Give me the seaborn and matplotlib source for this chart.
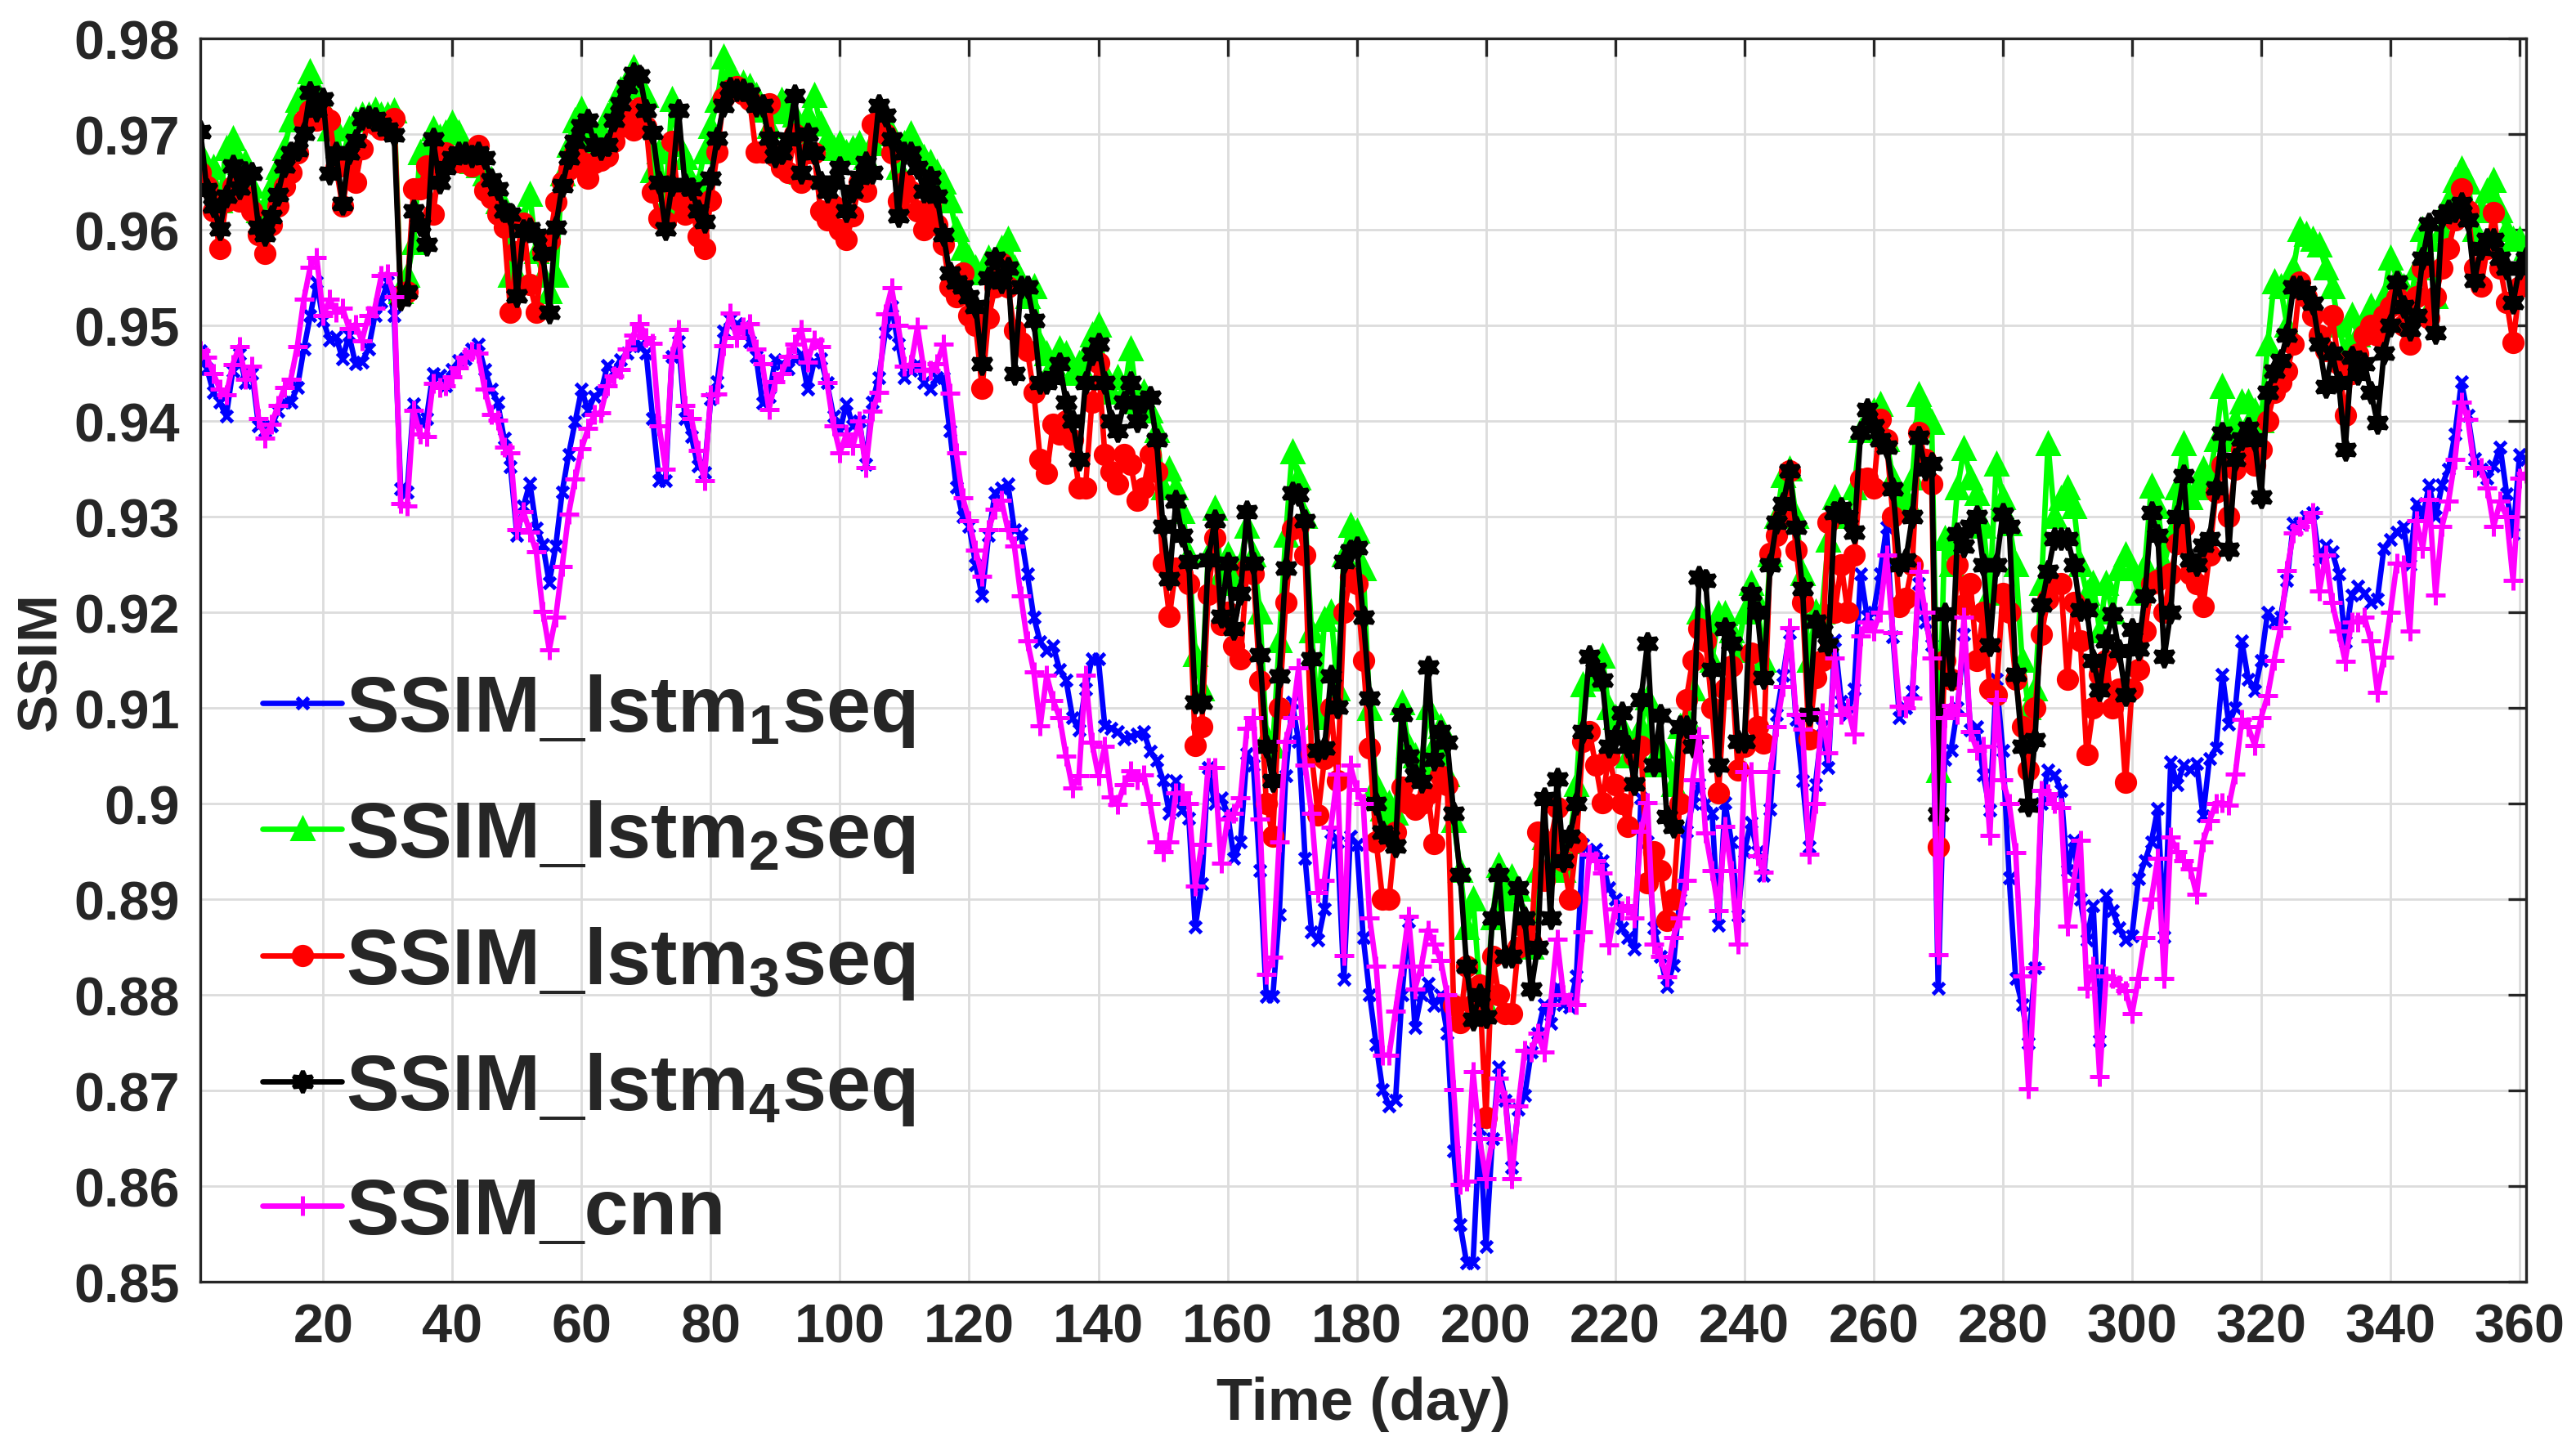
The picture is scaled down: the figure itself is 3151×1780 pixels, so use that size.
import matplotlib
matplotlib.use("Agg")
import matplotlib.pyplot as plt
import matplotlib.ticker as mticker
import seaborn as sns
import pandas as pd

days = list(range(1, 362))

ssim_lstm1 = [
    0.9474, 0.9455, 0.9430, 0.9420, 0.9405, 0.9452, 0.9470, 0.9440, 0.9450, 0.9395,
    0.9390, 0.9395, 0.9410, 0.9420, 0.9420, 0.9435, 0.9475, 0.9510, 0.9545, 0.9505,
    0.9485, 0.9488, 0.9465, 0.9490, 0.9460, 0.9462, 0.9475, 0.9510, 0.9525, 0.9545,
    0.9510, 0.9329, 0.9326, 0.9418, 0.9399, 0.9403, 0.9450, 0.9448, 0.9437, 0.9454,
    0.9463, 0.9465, 0.9475, 0.9480, 0.9454, 0.9433, 0.9420, 0.9382, 0.9352, 0.9280,
    0.9311, 0.9335, 0.9288, 0.9271, 0.9231, 0.9269, 0.9326, 0.9365, 0.9399, 0.9433,
    0.9411, 0.9426, 0.9430, 0.9458, 0.9452, 0.9464, 0.9471, 0.9479, 0.9479, 0.9471,
    0.9403, 0.9338, 0.9338, 0.9468, 0.9483, 0.9403, 0.9384, 0.9353, 0.9346, 0.9423,
    0.9441, 0.9494, 0.9506, 0.9502, 0.9498, 0.9483, 0.9468, 0.9419, 0.9426, 0.9464,
    0.9460, 0.9455, 0.9465, 0.9470, 0.9433, 0.9462, 0.9465, 0.9440, 0.9405, 0.9390,
    0.9418, 0.9395, 0.9400, 0.9355, 0.9420, 0.9445, 0.9492, 0.9520, 0.9480, 0.9445,
    0.9453, 0.9460, 0.9440, 0.9433, 0.9445, 0.9445, 0.9390, 0.9331, 0.9300, 0.9290,
    0.9250, 0.9217, 0.9280, 0.9325, 0.9330, 0.9334, 0.9286, 0.9282, 0.9240, 0.9195,
    0.9169, 0.9160, 0.9165, 0.9140, 0.9129, 0.9090, 0.9077, 0.9120, 0.9151, 0.9151,
    0.9081, 0.9079, 0.9075, 0.9068, 0.9070, 0.9073, 0.9075, 0.9055, 0.9045, 0.9025,
    0.8990, 0.9024, 0.8993, 0.8985, 0.8871, 0.8916, 0.9038, 0.9000, 0.9006, 0.8990,
    0.8943, 0.8960, 0.9052, 0.9040, 0.8930, 0.8798, 0.8798, 0.8884, 0.9029, 0.9106,
    0.9065, 0.8943, 0.8866, 0.8857, 0.8890, 0.8970, 0.8960, 0.8816, 0.8966, 0.8957,
    0.8860, 0.8800, 0.8748, 0.8701, 0.8684, 0.8690, 0.8800, 0.8877, 0.8766, 0.8800,
    0.8812, 0.8789, 0.8800, 0.8760, 0.8637, 0.8560, 0.8520, 0.8520, 0.8660, 0.8537,
    0.8650, 0.8725, 0.8690, 0.8620, 0.8680, 0.8695, 0.8740, 0.8760, 0.8790, 0.8770,
    0.8809, 0.8790, 0.8787, 0.8820, 0.8957, 0.8950, 0.8952, 0.8940, 0.8912, 0.8900,
    0.8870, 0.8860, 0.8848, 0.9006, 0.8960, 0.8870, 0.8840, 0.8809, 0.8831, 0.8900,
    0.8971, 0.9000, 0.9021, 0.9000, 0.8990, 0.8873, 0.9001, 0.8960, 0.8883, 0.8950,
    0.8980, 0.8950, 0.8925, 0.8994, 0.9093, 0.9134, 0.9179, 0.9088, 0.9024, 0.8955,
    0.9020, 0.9080, 0.9038, 0.9171, 0.9107, 0.9093, 0.9120, 0.9240, 0.9196, 0.9200,
    0.9240, 0.9289, 0.9174, 0.9090, 0.9100, 0.9117, 0.9230, 0.9190, 0.9166, 0.8807,
    0.9046, 0.9056, 0.9100, 0.9177, 0.9077, 0.9080, 0.9030, 0.8993, 0.9130, 0.9056,
    0.8922, 0.8817, 0.8790, 0.8750, 0.8828, 0.9000, 0.9035, 0.9030, 0.9014, 0.8930,
    0.8962, 0.8900, 0.8857, 0.8893, 0.8752, 0.8904, 0.8888, 0.8870, 0.8857, 0.8862,
    0.8921, 0.8940, 0.8960, 0.8995, 0.8861, 0.9044, 0.9020, 0.9040, 0.9035, 0.9042,
    0.8987, 0.9047, 0.9058, 0.9135, 0.9083, 0.9100, 0.9170, 0.9130, 0.9118, 0.9150,
    0.9200, 0.9190, 0.9195, 0.9233, 0.9293, 0.9293, 0.9300, 0.9304, 0.9255, 0.9270,
    0.9263, 0.9240, 0.9169, 0.9218, 0.9227, 0.9220, 0.9210, 0.9214, 0.9267, 0.9276,
    0.9284, 0.9290, 0.9250, 0.9314, 0.9300, 0.9333, 0.9300, 0.9333, 0.9350, 0.9386,
    0.9441, 0.9406, 0.9361, 0.9350, 0.9340, 0.9353, 0.9373, 0.9324, 0.9282, 0.9365,
    0.9360,
]

ssim_lstm2 = [
    0.9680, 0.9655, 0.9665, 0.9630, 0.9685, 0.9695, 0.9670, 0.9670, 0.9645, 0.9620,
    0.9625, 0.9645, 0.9665, 0.9685, 0.9715, 0.9735, 0.9745, 0.9765, 0.9745, 0.9730,
    0.9705, 0.9705, 0.9670, 0.9705, 0.9715, 0.9720, 0.9720, 0.9725, 0.9720, 0.9720,
    0.9724, 0.9535, 0.9552, 0.9586, 0.9680, 0.9680, 0.9705, 0.9697, 0.9701, 0.9711,
    0.9701, 0.9684, 0.9671, 0.9667, 0.9658, 0.9652, 0.9629, 0.9624, 0.9552, 0.9552,
    0.9611, 0.9637, 0.9577, 0.9552, 0.9535, 0.9552, 0.9658, 0.9688, 0.9714, 0.9726,
    0.9692, 0.9696, 0.9704, 0.9719, 0.9730, 0.9746, 0.9755, 0.9769, 0.9750, 0.9740,
    0.9662, 0.9681, 0.9628, 0.9736, 0.9689, 0.9675, 0.9650, 0.9647, 0.9681, 0.9708,
    0.9735, 0.9780, 0.9765, 0.9753, 0.9753, 0.9750, 0.9740, 0.9725, 0.9708, 0.9723,
    0.9735, 0.9725, 0.9720, 0.9660, 0.9720, 0.9740, 0.9710, 0.9695, 0.9685, 0.9690,
    0.9680, 0.9685, 0.9690, 0.9675, 0.9690, 0.9700, 0.9710, 0.9700, 0.9665, 0.9690,
    0.9700, 0.9685, 0.9675, 0.9670, 0.9660, 0.9650, 0.9630, 0.9600, 0.9580, 0.9570,
    0.9560, 0.9555, 0.9570, 0.9560, 0.9580, 0.9590, 0.9560, 0.9545, 0.9530, 0.9540,
    0.9480, 0.9470, 0.9460, 0.9475, 0.9470, 0.9450, 0.9460, 0.9470, 0.9490, 0.9500,
    0.9450, 0.9430, 0.9445, 0.9430, 0.9475, 0.9420, 0.9430, 0.9410, 0.9390, 0.9330,
    0.9350, 0.9330, 0.9305, 0.9260, 0.9156, 0.9120, 0.9260, 0.9309, 0.9240, 0.9260,
    0.9230, 0.9250, 0.9290, 0.9260, 0.9200, 0.9070, 0.9060, 0.9170, 0.9280, 0.9368,
    0.9340, 0.9300, 0.9180, 0.9090, 0.9192, 0.9200, 0.9120, 0.9260, 0.9291, 0.9285,
    0.9245, 0.9099, 0.9020, 0.8994, 0.9000, 0.8990, 0.9105, 0.9060, 0.9050, 0.9040,
    0.9100, 0.9060, 0.9080, 0.9030, 0.8982, 0.8930, 0.8870, 0.8900, 0.8810, 0.8790,
    0.8880, 0.8935, 0.8900, 0.8923, 0.8910, 0.8880, 0.8850, 0.8930, 0.8964, 0.8940,
    0.8960, 0.8930, 0.8960, 0.9020, 0.9124, 0.9130, 0.9140, 0.9154, 0.9100, 0.9090,
    0.9080, 0.9050, 0.9060, 0.9080, 0.9110, 0.9040, 0.9060, 0.9040, 0.9020, 0.9080,
    0.9090, 0.9120, 0.9200, 0.9190, 0.9150, 0.9198, 0.9198, 0.9180, 0.9160, 0.9200,
    0.9230, 0.9210, 0.9150, 0.9260, 0.9300, 0.9343, 0.9350, 0.9300, 0.9240, 0.9150,
    0.9200, 0.9200, 0.9275, 0.9320, 0.9300, 0.9300, 0.9330, 0.9390, 0.9400, 0.9410,
    0.9417, 0.9380, 0.9340, 0.9310, 0.9320, 0.9340, 0.9427, 0.9410, 0.9398, 0.9034,
    0.9277, 0.9250, 0.9330, 0.9371, 0.9340, 0.9324, 0.9290, 0.9220, 0.9355, 0.9320,
    0.9292, 0.9250, 0.9150, 0.9100, 0.9120, 0.9230, 0.9376, 0.9300, 0.9319, 0.9330,
    0.9310, 0.9250, 0.9220, 0.9230, 0.9180, 0.9230, 0.9200, 0.9245, 0.9260, 0.9245,
    0.9220, 0.9250, 0.9332, 0.9310, 0.9250, 0.9280, 0.9330, 0.9376, 0.9320, 0.9330,
    0.9350, 0.9340, 0.9380, 0.9436, 0.9380, 0.9400, 0.9420, 0.9420, 0.9410, 0.9400,
    0.9480, 0.9545, 0.9540, 0.9500, 0.9560, 0.9600, 0.9595, 0.9590, 0.9584, 0.9560,
    0.9540, 0.9500, 0.9470, 0.9510, 0.9490, 0.9500, 0.9520, 0.9500, 0.9530, 0.9570,
    0.9550, 0.9540, 0.9520, 0.9560, 0.9600, 0.9590, 0.9530, 0.9600, 0.9630, 0.9651,
    0.9663, 0.9650, 0.9600, 0.9620, 0.9640, 0.9651, 0.9620, 0.9600, 0.9590, 0.9590,
    0.9580,
]

ssim_lstm3 = [
    0.9660, 0.9645, 0.9620, 0.9580, 0.9630, 0.9645, 0.9630, 0.9635, 0.9620, 0.9595,
    0.9575, 0.9605, 0.9625, 0.9645, 0.9660, 0.9680, 0.9715, 0.9725, 0.9715, 0.9720,
    0.9715, 0.9665, 0.9625, 0.9665, 0.9650, 0.9685, 0.9715, 0.9710, 0.9705, 0.9705,
    0.9716, 0.9531, 0.9535, 0.9643, 0.9643, 0.9667, 0.9616, 0.9667, 0.9680, 0.9673,
    0.9671, 0.9675, 0.9667, 0.9688, 0.9641, 0.9633, 0.9616, 0.9603, 0.9514, 0.9577,
    0.9607, 0.9543, 0.9514, 0.9577, 0.9588, 0.9629, 0.9650, 0.9663, 0.9680, 0.9671,
    0.9654, 0.9670, 0.9673, 0.9677, 0.9692, 0.9708, 0.9715, 0.9704, 0.9727, 0.9708,
    0.9639, 0.9612, 0.9609, 0.9692, 0.9631, 0.9616, 0.9628, 0.9593, 0.9580, 0.9631,
    0.9681, 0.9738, 0.9746, 0.9750, 0.9742, 0.9736, 0.9681, 0.9681, 0.9732, 0.9677,
    0.9665, 0.9660, 0.9700, 0.9650, 0.9680, 0.9680, 0.9620, 0.9610, 0.9625, 0.9600,
    0.9590, 0.9615, 0.9650, 0.9640, 0.9710, 0.9715, 0.9700, 0.9680, 0.9630, 0.9650,
    0.9640, 0.9620, 0.9600, 0.9625, 0.9605, 0.9585, 0.9540, 0.9530, 0.9555, 0.9510,
    0.9500, 0.9434, 0.9508, 0.9540, 0.9565, 0.9540, 0.9495, 0.9482, 0.9474, 0.9430,
    0.9360, 0.9345, 0.9397, 0.9386, 0.9400, 0.9380, 0.9330, 0.9330, 0.9420, 0.9461,
    0.9365, 0.9347, 0.9334, 0.9365, 0.9355, 0.9317, 0.9330, 0.9365, 0.9347, 0.9251,
    0.9196, 0.9246, 0.9240, 0.9230, 0.9061, 0.9080, 0.9219, 0.9278, 0.9187, 0.9200,
    0.9165, 0.9151, 0.9245, 0.9240, 0.9128, 0.9000, 0.8966, 0.9100, 0.9210, 0.9287,
    0.9290, 0.9260, 0.9052, 0.8988, 0.9047, 0.9100, 0.9024, 0.9200, 0.9237, 0.9230,
    0.9150, 0.9058, 0.8960, 0.8900, 0.8900, 0.8970, 0.9017, 0.9000, 0.8994, 0.9000,
    0.9010, 0.8958, 0.9029, 0.9020, 0.8789, 0.8771, 0.8830, 0.8790, 0.8810, 0.8672,
    0.8840, 0.8800, 0.8780, 0.8780, 0.8850, 0.8870, 0.8855, 0.8970, 0.8920, 0.8960,
    0.8996, 0.8940, 0.8900, 0.8960, 0.9065, 0.9075, 0.9040, 0.9001, 0.9050, 0.9020,
    0.9000, 0.8976, 0.9050, 0.9060, 0.8917, 0.8950, 0.8930, 0.8878, 0.8900, 0.9000,
    0.9109, 0.9150, 0.9183, 0.9170, 0.9100, 0.9011, 0.9120, 0.9144, 0.9035, 0.9060,
    0.9157, 0.9080, 0.9063, 0.9262, 0.9280, 0.9300, 0.9348, 0.9265, 0.9210, 0.9068,
    0.9132, 0.9150, 0.9294, 0.9200, 0.9250, 0.9200, 0.9260, 0.9339, 0.9340, 0.9330,
    0.9402, 0.9380, 0.9300, 0.9206, 0.9215, 0.9250, 0.9388, 0.9360, 0.9334, 0.8955,
    0.9150, 0.9130, 0.9250, 0.9208, 0.9230, 0.9150, 0.9200, 0.9120, 0.9114, 0.9220,
    0.9200, 0.9130, 0.9080, 0.9035, 0.9100, 0.9177, 0.9214, 0.9230, 0.9230, 0.9130,
    0.9210, 0.9170, 0.9051, 0.9100, 0.9135, 0.9150, 0.9100, 0.9120, 0.9022, 0.9120,
    0.9140, 0.9180, 0.9230, 0.9233, 0.9200, 0.9240, 0.9272, 0.9290, 0.9240, 0.9230,
    0.9206, 0.9260, 0.9326, 0.9354, 0.9300, 0.9350, 0.9370, 0.9376, 0.9354, 0.9370,
    0.9400, 0.9430, 0.9440, 0.9452, 0.9480, 0.9545, 0.9530, 0.9510, 0.9490, 0.9474,
    0.9510, 0.9460, 0.9406, 0.9450, 0.9470, 0.9490, 0.9500, 0.9490, 0.9510, 0.9520,
    0.9529, 0.9500, 0.9480, 0.9530, 0.9560, 0.9508, 0.9530, 0.9560, 0.9580, 0.9610,
    0.9643, 0.9620, 0.9560, 0.9541, 0.9580, 0.9618, 0.9560, 0.9524, 0.9482, 0.9540,
    0.9550,
]

ssim_lstm4 = [
    0.9703, 0.9642, 0.9625, 0.9601, 0.9635, 0.9667, 0.9644, 0.9660, 0.9659, 0.9603,
    0.9595, 0.9614, 0.9637, 0.9667, 0.9680, 0.9684, 0.9701, 0.9744, 0.9725, 0.9737,
    0.9659, 0.9680, 0.9627, 0.9680, 0.9693, 0.9716, 0.9718, 0.9716, 0.9710, 0.9705,
    0.9699, 0.9527, 0.9535, 0.9620, 0.9605, 0.9585, 0.9695, 0.9650, 0.9665, 0.9675,
    0.9680, 0.9680, 0.9677, 0.9680, 0.9675, 0.9652, 0.9643, 0.9620, 0.9616, 0.9531,
    0.9599, 0.9601, 0.9594, 0.9575, 0.9514, 0.9603, 0.9646, 0.9675, 0.9692, 0.9709,
    0.9715, 0.9689, 0.9685, 0.9689, 0.9715, 0.9732, 0.9750, 0.9763, 0.9761, 0.9725,
    0.9702, 0.9650, 0.9601, 0.9647, 0.9725, 0.9647, 0.9643, 0.9620, 0.9609, 0.9654,
    0.9696, 0.9730, 0.9748, 0.9746, 0.9746, 0.9742, 0.9730, 0.9730, 0.9696, 0.9677,
    0.9680, 0.9695, 0.9740, 0.9660, 0.9700, 0.9680, 0.9650, 0.9640, 0.9650, 0.9665,
    0.9620, 0.9640, 0.9655, 0.9670, 0.9660, 0.9730, 0.9720, 0.9695, 0.9615, 0.9680,
    0.9680, 0.9665, 0.9640, 0.9655, 0.9635, 0.9595, 0.9555, 0.9545, 0.9540, 0.9530,
    0.9520, 0.9460, 0.9550, 0.9570, 0.9545, 0.9560, 0.9450, 0.9540, 0.9540, 0.9505,
    0.9440, 0.9440, 0.9445, 0.9460, 0.9420, 0.9400, 0.9360, 0.9440, 0.9470, 0.9480,
    0.9440, 0.9400, 0.9390, 0.9420, 0.9440, 0.9400, 0.9420, 0.9425, 0.9380, 0.9290,
    0.9235, 0.9316, 0.9280, 0.9253, 0.9106, 0.9106, 0.9255, 0.9296, 0.9196, 0.9251,
    0.9183, 0.9220, 0.9305, 0.9251, 0.9156, 0.9060, 0.9024, 0.9133, 0.9246, 0.9325,
    0.9323, 0.9296, 0.9151, 0.9056, 0.9058, 0.9133, 0.9101, 0.9253, 0.9264, 0.9268,
    0.9195, 0.9110, 0.9000, 0.8970, 0.8965, 0.8956, 0.9093, 0.9050, 0.9030, 0.9023,
    0.9143, 0.9046, 0.9075, 0.9064, 0.8990, 0.8926, 0.8830, 0.8774, 0.8800, 0.8777,
    0.8880, 0.8926, 0.8840, 0.8840, 0.8912, 0.8880, 0.8806, 0.8850, 0.9005, 0.8880,
    0.9026, 0.8940, 0.8966, 0.9000, 0.9075, 0.9154, 0.9140, 0.9129, 0.9060, 0.9070,
    0.9095, 0.9060, 0.9021, 0.9109, 0.9168, 0.9040, 0.9092, 0.8986, 0.8976, 0.9080,
    0.9080, 0.9060, 0.9237, 0.9233, 0.9140, 0.9040, 0.9183, 0.9168, 0.9065, 0.9065,
    0.9220, 0.9200, 0.9132, 0.9250, 0.9294, 0.9314, 0.9348, 0.9289, 0.9225, 0.9093,
    0.9191, 0.9180, 0.9166, 0.9304, 0.9309, 0.9300, 0.9284, 0.9388, 0.9412, 0.9395,
    0.9380, 0.9373, 0.9329, 0.9250, 0.9255, 0.9300, 0.9383, 0.9350, 0.9356, 0.8989,
    0.9198, 0.9130, 0.9282, 0.9269, 0.9290, 0.9300, 0.9250, 0.9166, 0.9250, 0.9303,
    0.9290, 0.9135, 0.9060, 0.8998, 0.9067, 0.9208, 0.9243, 0.9277, 0.9277, 0.9277,
    0.9250, 0.9203, 0.9203, 0.9150, 0.9119, 0.9170, 0.9198, 0.9160, 0.9114, 0.9182,
    0.9162, 0.9217, 0.9304, 0.9280, 0.9154, 0.9200, 0.9300, 0.9343, 0.9255, 0.9250,
    0.9270, 0.9277, 0.9330, 0.9387, 0.9266, 0.9360, 0.9381, 0.9392, 0.9380, 0.9321,
    0.9430, 0.9452, 0.9463, 0.9490, 0.9540, 0.9540, 0.9534, 0.9523, 0.9480, 0.9436,
    0.9471, 0.9440, 0.9370, 0.9467, 0.9450, 0.9460, 0.9430, 0.9398, 0.9471, 0.9500,
    0.9545, 0.9520, 0.9496, 0.9510, 0.9570, 0.9606, 0.9492, 0.9614, 0.9620, 0.9620,
    0.9627, 0.9610, 0.9547, 0.9580, 0.9590, 0.9590, 0.9570, 0.9560, 0.9524, 0.9560,
    0.9570,
]

ssim_cnn = [
    0.9474, 0.9467, 0.9450, 0.9433, 0.9427, 0.9459, 0.9478, 0.9444, 0.9457, 0.9403,
    0.9382, 0.9397, 0.9416, 0.9435, 0.9444, 0.9478, 0.9527, 0.9561, 0.9571, 0.9510,
    0.9527, 0.9514, 0.9518, 0.9497, 0.9501, 0.9484, 0.9510, 0.9518, 0.9552, 0.9554,
    0.9530, 0.9314, 0.9311, 0.9411, 0.9386, 0.9384, 0.9439, 0.9435, 0.9437, 0.9446,
    0.9456, 0.9467, 0.9473, 0.9471, 0.9433, 0.9407, 0.9401, 0.9373, 0.9367, 0.9286,
    0.9305, 0.9284, 0.9263, 0.9201, 0.9161, 0.9195, 0.9248, 0.9303, 0.9339, 0.9371,
    0.9392, 0.9407, 0.9409, 0.9437, 0.9447, 0.9454, 0.9475, 0.9490, 0.9502, 0.9487,
    0.9481, 0.9395, 0.9350, 0.9468, 0.9496, 0.9416, 0.9403, 0.9369, 0.9338, 0.9427,
    0.9428, 0.9479, 0.9513, 0.9487, 0.9498, 0.9502, 0.9475, 0.9460, 0.9412, 0.9441,
    0.9450, 0.9468, 0.9480, 0.9496, 0.9462, 0.9485, 0.9478, 0.9440, 0.9395, 0.9367,
    0.9386, 0.9374, 0.9400, 0.9351, 0.9410, 0.9430, 0.9512, 0.9539, 0.9500, 0.9457,
    0.9459, 0.9498, 0.9453, 0.9453, 0.9460, 0.9480, 0.9429, 0.9367, 0.9320, 0.9296,
    0.9265, 0.9238, 0.9286, 0.9308, 0.9317, 0.9286, 0.9269, 0.9217, 0.9170, 0.9138,
    0.9081, 0.9134, 0.9108, 0.9090, 0.9050, 0.9016, 0.9029, 0.9134, 0.9064, 0.9029,
    0.9060, 0.9007, 0.8999, 0.9020, 0.9034, 0.9025, 0.9030, 0.9000, 0.8960, 0.8950,
    0.8960, 0.9011, 0.9011, 0.9000, 0.8914, 0.8957, 0.9038, 0.9038, 0.8938, 0.8984,
    0.8990, 0.9006, 0.9079, 0.9090, 0.8984, 0.8821, 0.8839, 0.8960, 0.9065, 0.9090,
    0.9142, 0.9040, 0.8990, 0.8907, 0.8920, 0.8975, 0.9031, 0.8841, 0.9040, 0.9015,
    0.9000, 0.8880, 0.8830, 0.8737, 0.8737, 0.8783, 0.8830, 0.8882, 0.8806, 0.8830,
    0.8868, 0.8853, 0.8836, 0.8800, 0.8701, 0.8602, 0.8605, 0.8720, 0.8650, 0.8608,
    0.8650, 0.8713, 0.8690, 0.8608, 0.8684, 0.8742, 0.8740, 0.8760, 0.8740, 0.8790,
    0.8858, 0.8800, 0.8792, 0.8790, 0.8866, 0.8947, 0.8940, 0.8927, 0.8852, 0.8890,
    0.8888, 0.8893, 0.8880, 0.8971, 0.9001, 0.8853, 0.8840, 0.8819, 0.8860, 0.8880,
    0.8920, 0.9025, 0.9070, 0.8969, 0.8930, 0.8888, 0.8976, 0.8930, 0.8853, 0.9033,
    0.9033, 0.8945, 0.8928, 0.9033, 0.9080, 0.9122, 0.9184, 0.9093, 0.9078, 0.8947,
    0.9000, 0.9095, 0.9053, 0.9152, 0.9093, 0.9100, 0.9073, 0.9175, 0.9190, 0.9180,
    0.9200, 0.9260, 0.9179, 0.9102, 0.9100, 0.9110, 0.9243, 0.9200, 0.9152, 0.8842,
    0.9090, 0.9103, 0.9093, 0.9195, 0.9075, 0.9056, 0.9060, 0.8967, 0.9109, 0.9025,
    0.9000, 0.8949, 0.8820, 0.8702, 0.8828, 0.9014, 0.9010, 0.9000, 0.8996, 0.8872,
    0.8920, 0.8962, 0.8807, 0.8830, 0.8715, 0.8820, 0.8817, 0.8810, 0.8804, 0.8780,
    0.8817, 0.8860, 0.8900, 0.8943, 0.8817, 0.8965, 0.8950, 0.8940, 0.8932, 0.8905,
    0.8960, 0.8982, 0.9000, 0.9001, 0.8998, 0.9031, 0.9088, 0.9080, 0.9061, 0.9090,
    0.9113, 0.9150, 0.9184, 0.9244, 0.9283, 0.9290, 0.9295, 0.9304, 0.9222, 0.9260,
    0.9210, 0.9180, 0.9149, 0.9190, 0.9190, 0.9195, 0.9170, 0.9116, 0.9153, 0.9200,
    0.9251, 0.9250, 0.9180, 0.9296, 0.9267, 0.9318, 0.9218, 0.9290, 0.9316, 0.9360,
    0.9420, 0.9402, 0.9351, 0.9351, 0.9330, 0.9290, 0.9316, 0.9300, 0.9233, 0.9340,
    0.9345,
]

labels = [
    "SSIM_lstm$_1$seq",
    "SSIM_lstm$_2$seq",
    "SSIM_lstm$_3$seq",
    "SSIM_lstm$_4$seq",
    "SSIM_cnn",
]
x_ticks = list(range(20, 361, 20))
y_ticks = [0.85, 0.86, 0.87, 0.88, 0.89, 0.90, 0.91, 0.92, 0.93, 0.94, 0.95, 0.96, 0.97, 0.98]

sns.set_style("whitegrid")
plt.rcParams["font.family"] = ["Liberation Sans", "DejaVu Sans"]
plt.rcParams["font.weight"] = "bold"
plt.rcParams["axes.labelweight"] = "bold"
plt.rcParams["mathtext.fontset"] = "custom"
plt.rcParams["mathtext.rm"] = "Liberation Sans:bold"
plt.rcParams["mathtext.it"] = "Liberation Sans:bold"
plt.rcParams["mathtext.bf"] = "Liberation Sans:bold"
plt.rcParams["mathtext.default"] = "bf"

df = pd.DataFrame({
    "day": days,
    "l1": ssim_lstm1,
    "l2": ssim_lstm2,
    "l3": ssim_lstm3,
    "l4": ssim_lstm4,
    "cnn": ssim_cnn,
})

fig = plt.figure(figsize=(15.755, 8.905), dpi=200)
ax = fig.add_axes([0.0778, 0.119, 0.9028, 0.854])

# series styles: column, colour, marker, marker size
styles = [
    ("l1", "#0000ff", "x", 5.0),
    ("l2", "#00ff00", "^", 8.5),
    ("l3", "#ff0000", "o", 8.0),
    ("l4", "#000000", (6, 1, 0), 9.5),
    ("cnn", "#ff00ff", "+", 8.5),
]
for (col, color, marker, ms), lab in zip(styles, labels):
    sns.lineplot(data=df, x="day", y=col, ax=ax, color=color, marker=marker,
                 markersize=ms, markeredgecolor=color, markerfacecolor=color,
                 markeredgewidth=1.8, linewidth=2.4, label=lab)

ax.set_xlim(1, 361)
ax.set_ylim(0.85, 0.98)
ax.set_xticks(x_ticks)
ax.set_yticks(y_ticks)
ax.yaxis.set_major_formatter(mticker.FuncFormatter(lambda v, p: f"{v:g}"))
ax.tick_params(axis="both", which="major", labelsize=24, direction="in",
               length=8, width=1.2, top=True, right=True, pad=9, color="#262626")
for lab in ax.get_xticklabels() + ax.get_yticklabels():
    lab.set_fontweight("bold")

ax.grid(True, color="#dcdcdc", linewidth=1.0)
for sp in ax.spines.values():
    sp.set_color("#262626")
    sp.set_linewidth(1.2)

ax.set_xlabel("Time (day)", fontsize=26, fontweight="bold", labelpad=10)
ax.set_ylabel("SSIM", fontsize=25, fontweight="bold", labelpad=3)

ax.legend(loc="lower left", bbox_to_anchor=(0.013, 0.0), frameon=False,
          prop={"size": 35, "weight": "bold"}, handlelength=1.0,
          handletextpad=0.05, labelspacing=0.62, borderaxespad=0.0)

fig.savefig("out.png", dpi=200)
plt.close(fig)
